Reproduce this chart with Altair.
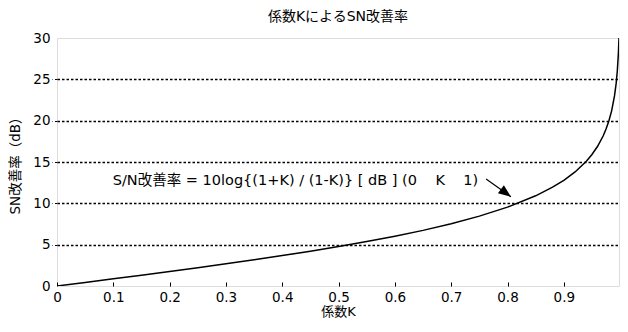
import altair as alt
import pandas as pd

# Curve values (係数K vs SN改善率 dB)
k_values = [0.0, 0.05, 0.1, 0.15, 0.2, 0.25, 0.3, 0.35, 0.4, 0.45, 0.5, 0.55,
            0.6, 0.65, 0.7, 0.75, 0.8, 0.85, 0.88, 0.9, 0.92, 0.94, 0.95, 0.96,
            0.97, 0.975, 0.98, 0.985, 0.99, 0.993, 0.995, 0.997, 0.998]
db_values = [0.0, 0.43, 0.87, 1.31, 1.76, 2.22, 2.69, 3.17, 3.68, 4.21, 4.77, 5.37,
             6.02, 6.73, 7.53, 8.45, 9.54, 10.91, 11.95, 12.79, 13.80, 15.10, 15.91, 16.90,
             18.17, 18.98, 19.96, 21.22, 22.99, 24.54, 26.01, 28.23, 30.0]

x_ticks = [0.0, 0.05, 0.1, 0.15, 0.2, 0.25, 0.3, 0.35, 0.4, 0.45, 0.5, 0.55,
           0.6, 0.65, 0.7, 0.75, 0.8, 0.85, 0.9, 0.95]
y_ticks = [0, 5, 10, 15, 20, 25, 30]

title_text = "係数KによるSN改善率"
x_title = "係数K"
y_title = "SN改善率（dB）"
NB = "\u00a0"
note_text = ("S/N改善率 = 10log{(1+K) / (1-K)} [ dB ] (0" + NB * 4 + "K" + NB * 4 + "1)")
note_pos = {"k": 0.748, "db": 12.7}
arrow_from = {"k": 0.762, "db": 12.95}
arrow_to = {"k": 0.806, "db": 10.8}

FONT = "DejaVu Sans, Noto Sans CJK JP, sans-serif"

curve = pd.DataFrame({"K": k_values, "dB": db_values})

xscale = alt.Scale(domain=[0, 0.998], nice=False, zero=True)
yscale = alt.Scale(domain=[0, 30], nice=False)

xaxis = alt.Axis(
    values=x_ticks,
    labelExpr="round(datum.value*20) % 2 == 0 ? (datum.value == 0 ? '0' : format(datum.value, '.1f')) : ''",
    offset=-4, tickSize=4, tickColor="black", domain=False, grid=False,
    labelFlush=False, labelOverlap=False, labelPadding=4,
    labelFontSize=13.5, labelColor="black", labelFont=FONT,
    title=x_title, titleFontSize=13, titleFontWeight="normal", titleColor="black",
    titleFont=FONT, titlePadding=2,
)
yaxis = alt.Axis(
    values=y_ticks, tickSize=5, tickDash=[2.5, 2], tickColor="black",
    tickOpacity={"condition": {"test": "datum.value == 0 || datum.value == 30", "value": 0}, "value": 1},
    grid=True, gridDash=[2.5, 2], gridColor="black", gridWidth=1.3,
    gridOpacity={"condition": {"test": "datum.value == 0 || datum.value == 30", "value": 0}, "value": 1},
    domain=False, labelFlush=False, labelPadding=2,
    labelFontSize=13.5, labelColor="black", labelFont=FONT,
    title=y_title, titleFontSize=13.5, titleFontWeight="normal", titleColor="black",
    titleFont=FONT, titlePadding=10,
)

line = alt.Chart(curve).mark_line(color="black", strokeWidth=1.5, clip=True).encode(
    x=alt.X("K:Q", scale=xscale, axis=xaxis),
    y=alt.Y("dB:Q", scale=yscale, axis=yaxis),
)

note = alt.Chart(pd.DataFrame([note_pos])).mark_text(
    align="right", baseline="middle", fontSize=14.5, font=FONT, color="black"
).encode(x=alt.X("k:Q", scale=xscale), y=alt.Y("db:Q", scale=yscale),
         text=alt.value(note_text))

arrow_df = pd.DataFrame([{"k": arrow_from["k"], "db": arrow_from["db"],
                          "k2": arrow_to["k"], "db2": arrow_to["db"]}])
shaft = alt.Chart(arrow_df).mark_rule(color="black", strokeWidth=1.2).encode(
    x=alt.X("k:Q", scale=xscale), y=alt.Y("db:Q", scale=yscale),
    x2="k2:Q", y2="db2:Q",
)
head = alt.Chart(pd.DataFrame([arrow_to])).mark_point(
    shape="M0,0 L-1,-0.4 L-1,0.4 Z", filled=True, color="black", opacity=1,
    size=625, angle=37, strokeWidth=0,
).encode(x=alt.X("k:Q", scale=xscale), y=alt.Y("db:Q", scale=yscale))

chart = alt.layer(line, note, shaft, head).properties(
    width=562, height=248,
    title=alt.TitleParams(title_text, fontSize=14, fontWeight="normal", font=FONT,
                          color="black", offset=7),
    autosize=alt.AutoSizeParams(type="none"),
    padding={"left": 49, "top": 30, "right": 1, "bottom": 34},
).configure_view(stroke="black", strokeWidth=1.5).configure(background="white")

chart.save("out.html", embed_options={"renderer": "svg", "actions": False})
